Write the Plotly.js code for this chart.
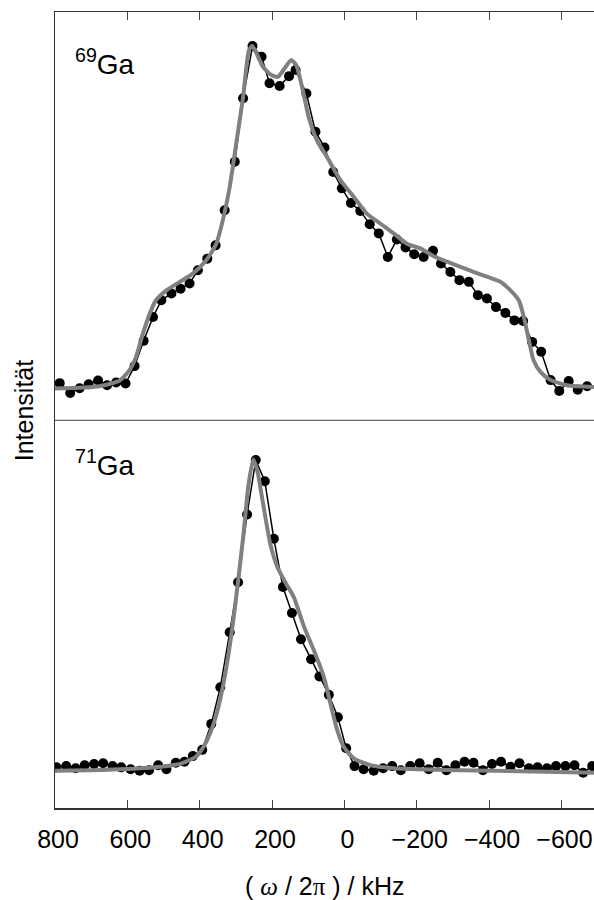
<!DOCTYPE html>
<html>
<head>
<meta charset="utf-8">
<script src="https://cdn.plot.ly/plotly-3.0.1.min.js"></script>
<style>html,body{margin:0;padding:0;background:#fff}#chart{width:594px;height:900px}</style>
</head>
<body>
<div id="chart"></div>
<script>
// 69Ga: measured points (kHz, intensity)
const ga69_kHz = [787,758,732,707,681,656,631,605,580,555,529,506,478,453,428,405,379,356,331,303,280,254,229,207,179,153,135,105,80,55,31,7,-18,-44,-70,-95,-120,-145,-169,-193,-219,-245,-267,-293,-318,-344,-369,-394,-419,-445,-470,-494,-519,-544,-570,-594,-620,-645,-671];
const ga69_I = [0.012,-0.017,-0.003,0.009,0.02,0.006,0.014,0.011,0.062,0.136,0.206,0.255,0.275,0.289,0.304,0.343,0.377,0.416,0.519,0.661,0.847,1.0,0.969,0.891,0.883,0.912,0.93,0.861,0.749,0.703,0.631,0.583,0.540,0.517,0.478,0.451,0.382,0.433,0.410,0.39,0.382,0.4,0.363,0.338,0.314,0.309,0.27,0.26,0.235,0.218,0.196,0.194,0.133,0.104,0.021,-0.011,0.018,-0.007,0.003];
// 69Ga: simulation
const ga69_fit_kHz = [800,677,621,594,576,557,538,521,492,455,419,382,354,336,317,299,280,264,255,243,225,202,184,165,147,133,126,113,99,76,48,11,-26,-62,-99,-136,-173,-210,-247,-284,-321,-357,-394,-431,-459,-482,-496,-510,-523,-542,-570,-615,-690];
const ga69_fit_I = [-0.004,0.003,0.02,0.05,0.089,0.157,0.216,0.255,0.284,0.309,0.333,0.372,0.421,0.49,0.587,0.715,0.851,0.988,1.0,0.979,0.939,0.915,0.91,0.935,0.959,0.944,0.92,0.861,0.793,0.724,0.675,0.607,0.558,0.509,0.48,0.451,0.421,0.407,0.384,0.368,0.353,0.338,0.324,0.309,0.284,0.255,0.206,0.138,0.079,0.045,0.021,0.006,0.001];
// 71Ga: measured points
const ga71_kHz = [796,769,743,718,692,667,641,617,591,566,540,515,492,466,442,419,393,368,343,317,294,269,245,220,195,170,145,120,92,69,43,18,-5,-28,-53,-81,-107,-132,-156,-182,-208,-233,-258,-282,-307,-332,-357,-383,-408,-433,-459,-484,-510,-534,-560,-585,-611,-636,-660,-685];
const ga71_I = [0.015,0.019,0.012,0.022,0.026,0.028,0.019,0.015,0.009,0.004,0.006,0.022,0.009,0.03,0.033,0.051,0.071,0.154,0.271,0.447,0.607,0.824,0.998,0.93,0.746,0.592,0.509,0.425,0.361,0.306,0.247,0.175,0.076,0.019,0.009,0.004,0.012,0.019,0.006,0.019,0.028,0.009,0.03,0.006,0.022,0.033,0.03,0.006,0.026,0.033,0.017,0.028,0.012,0.015,0.012,0.019,0.019,0.022,-0.002,0.019];
// 71Ga: simulation
const ga71_fit_kHz = [800,700,600,500,450,410,385,360,340,320,300,280,265,252,240,225,205,185,160,140,112,85,57,39,20,2,-26,-72,-136,-320,-690];
const ga71_fit_I = [0.004,0.006,0.01,0.018,0.028,0.05,0.09,0.16,0.25,0.38,0.55,0.75,0.92,1.0,0.96,0.86,0.73,0.655,0.60,0.56,0.466,0.391,0.305,0.221,0.135,0.081,0.044,0.022,0.012,0.006,-0.002];

const tickVals = [800,600,400,200,0,-200,-400,-600];
const tickText = ['800','600','400','200','0','\u2212200','\u2212400','\u2212600'];

const FONT = 'Liberation Sans, Arial, sans-serif';
const SERIF = 'Liberation Serif, Times New Roman, serif';
const dotStyle = {color:'#000', size:10};
const dataLine = {color:'#000', width:1.5};
const fitLine = {color:'#808080', width:4, shape:'spline', smoothing:0.6};

const traces = [
  {x:ga69_kHz, y:ga69_I, xaxis:'x2', yaxis:'y2', mode:'lines+markers', marker:dotStyle, line:dataLine},
  {x:ga69_fit_kHz, y:ga69_fit_I, xaxis:'x2', yaxis:'y2', mode:'lines', line:fitLine},
  {x:ga71_kHz, y:ga71_I, xaxis:'x', yaxis:'y', mode:'lines+markers', marker:dotStyle, line:dataLine},
  {x:ga71_fit_kHz, y:ga71_fit_I, xaxis:'x', yaxis:'y', mode:'lines', line:fitLine}
];

const axisCommon = {
  range:[800,-690], showgrid:false, zeroline:false, showline:true, mirror:false,
  linecolor:'#333', linewidth:1.5, ticks:'inside', ticklen:8, tickwidth:1, tickcolor:'#444',
  tickvals:tickVals, ticktext:tickText
};

const layout = {
  width:594, height:900,
  margin:{l:55, r:0, t:12, b:92},
  showlegend:false,
  paper_bgcolor:'#fff', plot_bgcolor:'#fff',
  font:{family:FONT, size:25, color:'#000'},
  xaxis: Object.assign({}, axisCommon, {anchor:'y', side:'bottom', showticklabels:true,
    tickfont:{family:FONT, size:25, color:'#000'}, ticklabelstandoff:8, ticklabelshift:-3}),
  xaxis2: Object.assign({}, axisCommon, {anchor:'y2', side:'top', showticklabels:false, matches:'x'}),
  yaxis: {domain:[0,0.487], range:[-0.115,1.125], showgrid:false, zeroline:false, showline:true,
    linecolor:'#333', linewidth:1.5, ticks:'', showticklabels:false},
  yaxis2: {domain:[0.487,1], range:[-0.097,1.10], showgrid:false, zeroline:false, showline:true,
    linecolor:'#333', linewidth:1.5, ticks:'', showticklabels:false},
  shapes:[
    {type:'line', xref:'paper', yref:'paper', x0:0, x1:1, y0:0.487, y1:0.487,
      line:{color:'#666', width:1.2}}
  ],
  annotations:[
    {text:'<sup>69</sup>Ga', xref:'paper', yref:'paper', x:0.033, y:0.937, xanchor:'left', yanchor:'middle',
      showarrow:false, font:{family:FONT, size:28, color:'#000'}},
    {text:'<sup>71</sup>Ga', xref:'paper', yref:'paper', x:0.033, y:0.433, xanchor:'left', yanchor:'middle',
      showarrow:false, font:{family:FONT, size:28, color:'#000'}},
    {text:'Intensit\u00e4t', xref:'paper', yref:'paper', x:-0.057, y:0.5, xanchor:'center', yanchor:'middle',
      textangle:-90, showarrow:false, font:{family:FONT, size:25, color:'#000'}},
    {text:'( <i style="font-family:' + SERIF + '">\u03c9</i> / 2<span style="font-family:' + SERIF + '">\u03c0</span> ) / kHz',
      xref:'paper', yref:'paper', x:0.5, y:-0.0975, xanchor:'center', yanchor:'middle',
      showarrow:false, font:{family:FONT, size:25, color:'#000'}}
  ]
};

Plotly.newPlot('chart', traces, layout, {staticPlot:true, displayModeBar:false});
</script>
</body>
</html>
